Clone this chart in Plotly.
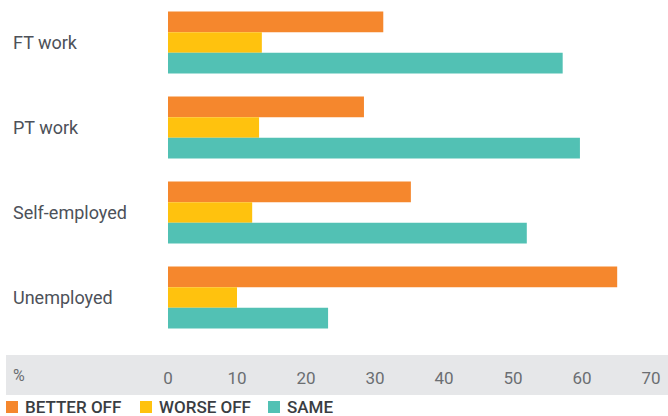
import plotly.graph_objects as go

categories = ["FT work", "PT work", "Self-employed", "Unemployed"]
better_off = [31.2, 28.4, 35.2, 65.1]
worse_off = [13.6, 13.2, 12.2, 10.0]
same = [57.2, 59.7, 52.0, 23.2]
x_ticks = [0, 10, 20, 30, 40, 50, 60, 70]

series = [
    ("BETTER OFF", better_off, "#f5872d"),
    ("WORSE OFF", worse_off, "#ffc20e"),
    ("SAME", same, "#52c1b4"),
]

W, H = 668, 416
ML, MR, MT, MB = 168, 17, 0, 76
PW = W - ML - MR
PH = H - MT - MB

def px_x(p):
    return (p - ML) / PW

def px_y(p):
    return (H - MB - p) / PH

fig = go.Figure()
for name, vals, color in series:
    fig.add_trace(go.Bar(
        y=categories, x=vals, name=name, orientation="h",
        marker=dict(color=color, line=dict(width=0)),
        showlegend=False,
    ))

font_family = "Roboto, 'Open Sans', sans-serif"

# grey band behind the value axis
fig.add_shape(type="rect", xref="paper", yref="paper",
              x0=px_x(6), x1=px_x(668), y0=px_y(395), y1=px_y(355),
              fillcolor="#e6e7e9", line=dict(width=0), layer="below")

annotations = [
    dict(text="%", xref="paper", yref="paper", x=px_x(11), y=px_y(375),
         xanchor="left", yanchor="middle", showarrow=False,
         font=dict(family=font_family, size=16, color="#6b6e72")),
]

# category labels, left-aligned
for cat in categories:
    annotations.append(dict(text=cat, xref="paper", yref="y", x=px_x(11), y=cat,
                            xanchor="left", yanchor="middle", showarrow=False,
                            font=dict(family=font_family, size=18, color="#4d5159")))

# legend row
legend_x = {"BETTER OFF": 6, "WORSE OFF": 140, "SAME": 268}
for name, vals, color in series:
    lx = legend_x[name]
    fig.add_shape(type="rect", xref="paper", yref="paper",
                  x0=px_x(lx), x1=px_x(lx + 12), y0=px_y(413), y1=px_y(401),
                  fillcolor=color, line=dict(width=0))
    annotations.append(dict(text=name, xref="paper", yref="paper", x=px_x(lx + 18), y=px_y(407),
                            xanchor="left", yanchor="middle", showarrow=False, borderpad=0,
                            font=dict(family=font_family, size=17, color="#3a3d42", weight=500)))

fig.update_layout(
    width=W, height=H,
    margin=dict(l=ML, r=MR, t=MT, b=MB),
    paper_bgcolor="white", plot_bgcolor="white",
    barmode="group", bargap=0.27, bargroupgap=0,
    annotations=annotations,
    xaxis=dict(range=[0, 70], tickvals=x_ticks, showgrid=False, zeroline=False,
               showline=False, ticks="", ticklabelstandoff=26,
               tickfont=dict(family=font_family, size=17, color="#6b6e72")),
    yaxis=dict(autorange="reversed", showticklabels=False, showgrid=False,
               zeroline=False, showline=False, ticks=""),
)

fig.write_html("out.html")
